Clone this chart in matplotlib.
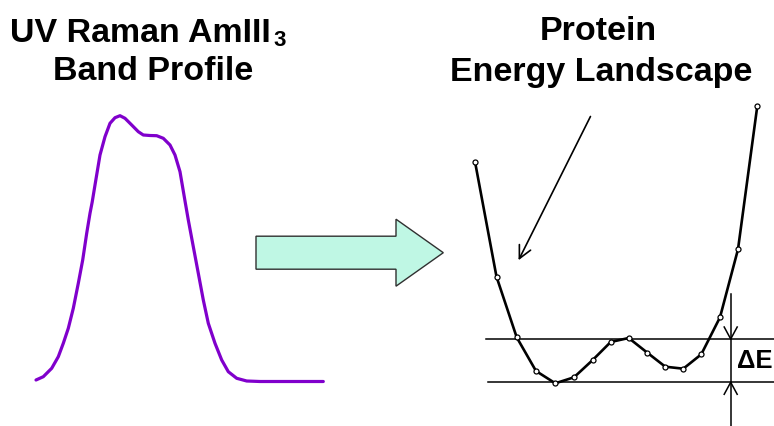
import matplotlib
matplotlib.use("Agg")
import matplotlib.pyplot as plt
from matplotlib.patches import FancyArrow

# UV Raman AmIII3 band profile (pixel coords)
band_x = [36, 43.3, 51.7, 58.3, 63.3, 68.3, 73.3, 78.3, 82.7, 86.7, 90, 92.2,
          95, 100, 105, 110, 115, 120, 125, 131.7, 138.3, 143.3, 150, 156.7,
          163.3, 170, 175, 180, 185, 188.3, 193.3, 198.3, 203.3, 208.3, 215,
          221.7, 228.3, 236.7, 246.7, 260, 323.3]
band_y = [380, 376.7, 368.3, 356.7, 343.3, 328.3, 308.3, 283.3, 260, 233.3,
          213.3, 202, 185, 155, 136.7, 123.3, 117.7, 115.7, 118.3, 125, 131.7,
          135, 135.5, 135.7, 138.3, 145, 155, 171.7, 201, 220, 246.7, 273.3,
          300, 323.3, 343.3, 360, 371.7, 378.3, 381, 381.5, 381.5]

# protein energy landscape points
land_x = [475, 496.5, 516.7, 536, 555.3, 574, 592.7, 610.7, 628.7, 647.3,
          665.3, 683.3, 701.3, 720, 738, 757.3]
land_y = [161.7, 276.7, 337.3, 371, 383.3, 377.3, 360, 342, 338, 352.7,
          366.7, 368.7, 354.3, 317.3, 249.3, 106]

# levels used for Delta E
level_hi = 339
level_lo = 382.3
dE_x = 730.7

W, H = 774, 426
fig = plt.figure(figsize=(W / 100, H / 100), dpi=100)
ax = fig.add_axes([0, 0, 1, 1])
ax.set_xlim(0, W)
ax.set_ylim(H, 0)
ax.axis("off")

font = dict(family="Liberation Sans", weight="bold", color="black")

# titles
ax.text(10, 41.5, "UV Raman AmIII", fontsize=24.5, ha="left", va="baseline", **font)
ax.text(273, 46.5, "3", fontsize=16, ha="left", va="baseline", **font)
ax.text(153, 80.5, "Band Profile", fontsize=24.5, ha="center", va="baseline", **font)
ax.text(598, 40.5, "Protein", fontsize=24.5, ha="center", va="baseline", **font)
ax.text(601.5, 81.5, "Energy Landscape", fontsize=24.5, ha="center", va="baseline", **font)

# band profile
ax.plot(band_x, band_y, color="#8000CC", lw=2.3, solid_joinstyle="round",
        solid_capstyle="round")

# big arrow in the middle
ax.add_patch(FancyArrow(256, 252.7, 187.3, 0, width=33, head_width=67,
                        head_length=47.3, length_includes_head=True,
                        facecolor="#BFF7E4", edgecolor="#303030", lw=1.0))

# energy levels
ax.plot([486, W], [level_hi, level_hi], color="black", lw=1.1)
ax.plot([488, W], [level_lo, level_lo], color="black", lw=1.1)

# landscape curve
ax.plot(land_x, land_y, color="black", lw=1.9, marker="o", ms=3.6,
        mfc="white", mec="black", mew=0.9, zorder=3)

# pointer arrow
ax.annotate("", xy=(517.3, 262.7), xytext=(591.7, 114),
            arrowprops=dict(arrowstyle="->,head_length=0.9,head_width=0.45",
                            color="black", lw=1.2))

# Delta E markers
ax.plot([dE_x, dE_x], [294, H], color="black", lw=1.1)
ax.plot([dE_x - 6.5, dE_x, dE_x + 6.5], [level_hi - 12, level_hi, level_hi - 12],
        color="black", lw=1.1)
ax.plot([dE_x - 6.5, dE_x, dE_x + 6.5], [level_lo + 12, level_lo, level_lo + 12],
        color="black", lw=1.1)
ax.text(737, 361, "\u0394E", fontsize=18.5, ha="left", va="center", **font)

fig.savefig("out.png", dpi=100)
